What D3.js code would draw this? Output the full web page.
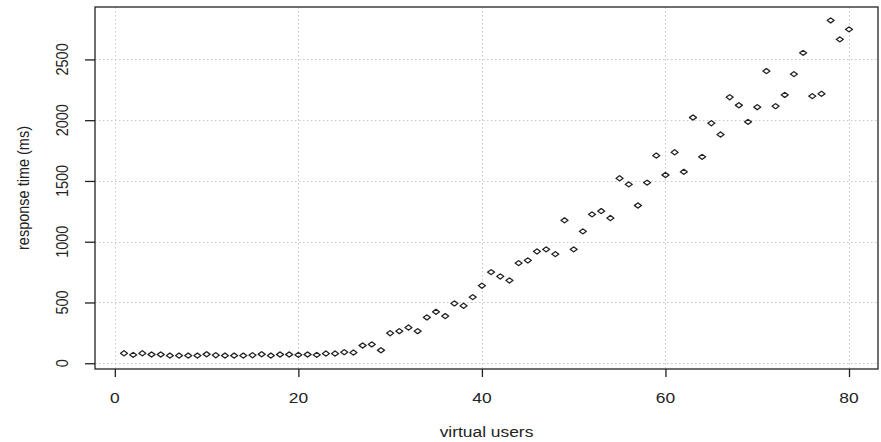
<!DOCTYPE html>
<html>
<head>
<meta charset="utf-8">
<script src="https://cdn.jsdelivr.net/npm/d3@7"></script>
<style>
  body { margin: 0; background: #fff; }
  svg text { font-family: "Liberation Sans", Arial, sans-serif; fill: #222; }
</style>
</head>
<body>
<svg id="chart"></svg>
<script>
// virtual users on x, response time in ms on y
var users = [1, 2, 3, 4, 5, 6, 7, 8, 9, 10, 11, 12, 13, 14, 15, 16, 17, 18, 19, 20,
  21, 22, 23, 24, 25, 26, 27, 28, 29, 30, 31, 32, 33, 34, 35, 36, 37, 38, 39, 40,
  41, 42, 43, 44, 45, 46, 47, 48, 49, 50, 51, 52, 53, 54, 55, 56, 57, 58, 59, 60,
  61, 62, 63, 64, 65, 66, 67, 68, 69, 70, 71, 72, 73, 74, 75, 76, 77, 78, 79, 80];

var responseTime = [82, 69, 82, 72, 72, 63, 63, 63, 63, 74, 66, 63, 63, 63, 66, 74, 63, 72, 72, 69,
  72, 69, 80, 80, 91, 88, 146, 155, 107, 247, 264, 294, 264, 377, 423, 388, 492, 473, 544, 638,
  750, 714, 681, 824, 846, 920, 937, 898, 1176, 937, 1085, 1225, 1252, 1195, 1522, 1472, 1298, 1486, 1709, 1549,
  1736, 1575, 2022, 1698, 1975, 1882, 2189, 2123, 1986, 2107, 2404, 2115, 2208, 2379, 2554, 2198, 2217, 2821, 2665, 2747];

var xTicks = [0, 20, 40, 60, 80];
var yTicks = [0, 500, 1000, 1500, 2000, 2500];

var xTitle = "virtual users";
var yTitle = "response time (ms)";

var w = 881;
var h = 442;
var margin = {top: 7, right: 3, bottom: 73, left: 95};
var stretch = 1.2; // text looks wider than tall
var fontSize = 14.5;

var svg = d3.select("#chart")
  .attr("width", w)
  .attr("height", h);

// R style axis range: data extent padded by 4%
function pad(ext) {
  var r = ext[1] - ext[0];
  return [ext[0] - 0.04 * r, ext[1] + 0.04 * r];
}

var xScale = d3.scaleLinear()
  .domain(pad(d3.extent(users)))
  .range([margin.left, w - margin.right]);

var yScale = d3.scaleLinear()
  .domain(pad(d3.extent(responseTime)))
  .range([h - margin.bottom, margin.top]);

var x0 = margin.left, x1 = w - margin.right;
var y0 = h - margin.bottom, y1 = margin.top;

// grid
var grid = svg.append("g")
  .attr("stroke", "#c8c8c8")
  .attr("stroke-width", 1)
  .attr("stroke-dasharray", "1.5,2.5");

grid.selectAll(".gx")
  .data(xTicks)
  .enter().append("line")
    .attr("x1", function (d) { return Math.round(xScale(d)) + 0.5; })
    .attr("x2", function (d) { return Math.round(xScale(d)) + 0.5; })
    .attr("y1", y1)
    .attr("y2", y0);

grid.selectAll(".gy")
  .data(yTicks)
  .enter().append("line")
    .attr("y1", function (d) { return Math.round(yScale(d)) + 0.5; })
    .attr("y2", function (d) { return Math.round(yScale(d)) + 0.5; })
    .attr("x1", x0)
    .attr("x2", x1);

// points
var symbol = d3.symbol().type(d3.symbolDiamond2).size(17);

svg.append("g")
  .selectAll("path")
  .data(users)
  .enter().append("path")
    .attr("d", symbol)
    .attr("transform", function (d, i) {
      return "translate(" + xScale(d) + "," + yScale(responseTime[i]) + ") scale(1.35,1)";
    })
    .attr("fill", "none")
    .attr("stroke", "#222")
    .attr("stroke-width", 1.1)
    .attr("stroke-linejoin", "round");

// box
svg.append("rect")
  .attr("x", x0)
  .attr("y", y1)
  .attr("width", x1 - x0)
  .attr("height", y0 - y1)
  .attr("fill", "none")
  .attr("stroke", "#222")
  .attr("stroke-width", 1.3);

// x axis
var xAxis = d3.axisBottom(xScale)
  .tickValues(xTicks)
  .tickSize(8)
  .tickFormat("");

svg.append("g")
  .attr("class", "axis axis--x")
  .attr("transform", "translate(0," + y0 + ")")
  .call(xAxis)
  .call(function (g) {
    g.select(".domain").remove();
    g.selectAll(".tick line").attr("stroke", "#222").attr("stroke-width", 1.3);
  });

svg.append("g").selectAll("text")
  .data(xTicks)
  .enter().append("text")
    .attr("transform", function (d) {
      return "translate(" + xScale(d) + "," + 403 + ") scale(" + stretch + ",1)";
    })
    .attr("text-anchor", "middle")
    .style("font-size", fontSize + "px")
    .text(function (d) { return d; });

// y axis
var yAxis = d3.axisLeft(yScale)
  .tickValues(yTicks)
  .tickSize(10)
  .tickFormat("");

svg.append("g")
  .attr("class", "axis axis--y")
  .attr("transform", "translate(" + x0 + ",0)")
  .call(yAxis)
  .call(function (g) {
    g.select(".domain").remove();
    g.selectAll(".tick line").attr("stroke", "#222").attr("stroke-width", 1.3);
  });

svg.append("g").selectAll("text")
  .data(yTicks)
  .enter().append("text")
    .attr("transform", function (d) {
      return "translate(" + 68 + "," + yScale(d) + ") scale(" + stretch + ",1) rotate(-90)";
    })
    .attr("text-anchor", "middle")
    .style("font-size", fontSize + "px")
    .text(function (d) { return d; });

// titles
svg.append("text")
  .attr("transform", "translate(" + ((x0 + x1) / 2) + "," + 437 + ") scale(" + stretch + ",1)")
  .attr("text-anchor", "middle")
  .style("font-size", fontSize + "px")
  .text(xTitle);

svg.append("text")
  .attr("transform", "translate(" + 29 + "," + ((y0 + y1) / 2) + ") scale(" + stretch + ",1) rotate(-90)")
  .attr("text-anchor", "middle")
  .style("font-size", fontSize + "px")
  .text(yTitle);
</script>
</body>
</html>
